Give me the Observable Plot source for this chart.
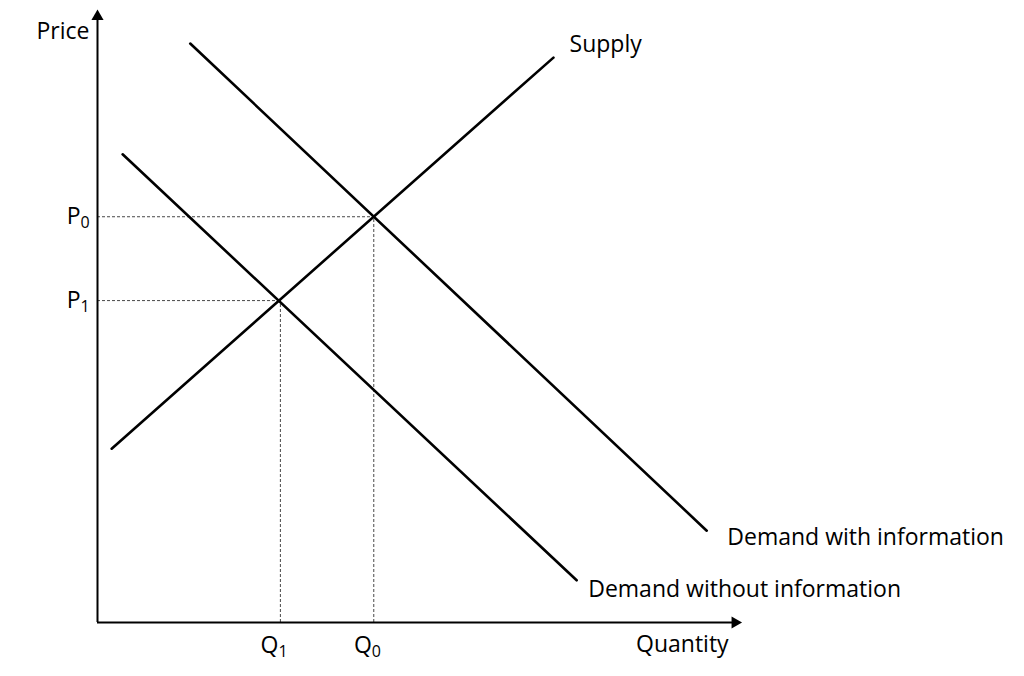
<!DOCTYPE html>
<html>
<head>
<meta charset="utf-8">
<script src="https://cdn.jsdelivr.net/npm/d3@7"></script>
<script src="https://cdn.jsdelivr.net/npm/@observablehq/plot@0.6"></script>
<style>
  html, body { margin: 0; padding: 0; background: #fff; }
</style>
</head>
<body>
<div id="chart"></div>
<script>
// Curves: endpoints in (quantity, price) units
const supply = [{q: 0.22, p: 2.84}, {q: 7.08, p: 9.23}];
const demandWith = [{q: 1.44, p: 9.46}, {q: 9.46, p: 1.50}];
const demandWithout = [{q: 0.39, p: 7.65}, {q: 7.44, p: 0.69}];

// Equilibria (subscript index)
const equilibria = [
  {q: 4.29, p: 6.63, sub: "0"},
  {q: 2.84, p: 5.26, sub: "1"}
];

// Curve labels
const curveLabels = [
  {q: 7.33, p: 9.44, text: "Supply"},
  {q: 9.78, p: 1.39, text: "Demand with information"},
  {q: 7.62, p: 0.54, text: "Demand without information"}
];

const axisMax = 10;
const font = "Open Sans, Noto Sans, sans-serif";
const fs = 23;
const fsSub = 16;

const chart = Plot.plot({
  width: 1024,
  height: 676,
  margin: 0,
  style: {background: "#fff", fontFamily: font},
  x: {domain: [0, axisMax], range: [97, 741], axis: null},
  y: {domain: [0, axisMax], range: [622, 10], axis: null},
  marks: [
    // dashed guides
    Plot.ruleY(equilibria, {y: "p", x1: 0, x2: "q", stroke: "#333", strokeWidth: 0.9, strokeDasharray: "3,2"}),
    Plot.ruleX(equilibria, {x: "q", y1: 0, y2: "p", stroke: "#333", strokeWidth: 0.9, strokeDasharray: "3,2"}),
    // axes
    Plot.ruleX([0], {y1: 0, y2: axisMax - 0.12, stroke: "#000", strokeWidth: 2}),
    Plot.ruleY([0], {x1: 0, x2: axisMax - 0.12, stroke: "#000", strokeWidth: 2}),
    Plot.dot([{q: 0, p: axisMax - 0.1}], {x: "q", y: "p", symbol: "triangle", r: 4.5, fill: "#000", stroke: "none"}),
    Plot.dot([{q: axisMax - 0.1, p: 0}], {x: "q", y: "p", symbol: "triangle", r: 4.5, fill: "#000", stroke: "none", rotate: 90}),
    // curves
    Plot.line(supply, {x: "q", y: "p", stroke: "#000", strokeWidth: 2.6}),
    Plot.line(demandWith, {x: "q", y: "p", stroke: "#000", strokeWidth: 2.6}),
    Plot.line(demandWithout, {x: "q", y: "p", stroke: "#000", strokeWidth: 2.6}),
    // curve labels
    Plot.text(curveLabels, {x: "q", y: "p", text: "text", textAnchor: "start", fontSize: fs, fill: "#000"}),
    // P labels with subscripts
    Plot.text(equilibria, {x: 0, y: "p", text: () => "P", dx: -17, textAnchor: "end", fontSize: fs, fill: "#000"}),
    Plot.text(equilibria, {x: 0, y: "p", text: "sub", dx: -17, dy: 6, textAnchor: "start", fontSize: fsSub, fill: "#000"}),
    // Q labels with subscripts
    Plot.text(equilibria, {x: "q", y: 0, text: () => "Q", dx: -2, dy: 23, textAnchor: "end", fontSize: fs, fill: "#000"}),
    Plot.text(equilibria, {x: "q", y: 0, text: "sub", dx: -2, dy: 29, textAnchor: "start", fontSize: fsSub, fill: "#000"}),
    // axis titles
    Plot.text(["Price"], {x: 0, y: 9.66, text: d => d, dx: -8, textAnchor: "end", fontSize: fs, fill: "#000"}),
    Plot.text(["Quantity"], {x: 9.8, y: 0, text: d => d, dy: 22, textAnchor: "end", fontSize: fs, fill: "#000"})
  ]
});
document.getElementById("chart").appendChild(chart);
</script>
</body>
</html>
